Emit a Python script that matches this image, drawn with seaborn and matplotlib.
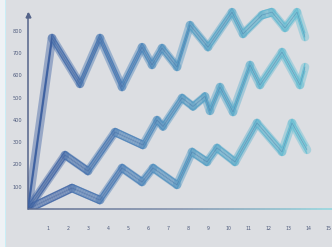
import numpy as np
import matplotlib
matplotlib.use("Agg")
import matplotlib.pyplot as plt
import seaborn as sns
import pandas as pd
from matplotlib.collections import LineCollection
from matplotlib.colors import LinearSegmentedColormap
from matplotlib.patches import Rectangle

# ---- data ----
top_x = [0, 1.2, 2.6, 3.6, 4.7, 5.7, 6.2, 6.7, 7.45, 8.1, 9.0, 10.2, 10.75, 11.7, 12.2, 12.85, 13.45, 13.85]
top_y = [0, 767, 561, 767, 547, 726, 646, 722, 637, 825, 726, 883, 785, 870, 883, 812, 883, 771]

mid_x = [0, 1.85, 3.0, 4.35, 5.75, 6.45, 6.75, 7.7, 8.25, 8.85, 9.1, 9.6, 10.25, 11.1, 11.6, 12.7, 13.6, 13.85]
mid_y = [0, 242, 170, 345, 287, 399, 370, 498, 460, 505, 440, 547, 435, 646, 556, 704, 556, 637]

bot_x = [0, 2.2, 3.6, 4.7, 5.7, 6.25, 7.45, 8.2, 8.95, 9.45, 10.35, 11.45, 12.7, 13.2, 13.95]
bot_y = [0, 94, 40, 184, 121, 184, 108, 256, 211, 274, 211, 386, 256, 386, 265]

y_ticks = [100, 200, 300, 400, 500, 600, 700, 800]
y_labels = ["100", "200", "300", "400", "500", "600", "700", "800"]
x_ticks = list(range(1, 16))
x_labels = [str(i) for i in x_ticks]

series = [(top_x, top_y), (mid_x, mid_y), (bot_x, bot_y)]

# ---- style ----
sns.set_theme(style="white")
bg = "#dcdee2"
W, H = 332, 247
fig = plt.figure(figsize=(W / 100, H / 100), dpi=100, facecolor=bg)
ax = fig.add_axes([28 / W, (H - 209) / H, 304 / W, 204 / H])
ax.set_facecolor(bg)
ax.patch.set_alpha(0)

# light strip at the left edge
fig.patches.append(Rectangle((0, 0), 5 / W, 1, transform=fig.transFigure,
                             facecolor="#eef2f5", edgecolor="none", zorder=0))
fig.patches.append(Rectangle((5 / W, 0), 1.2 / W, 1, transform=fig.transFigure,
                             facecolor="#c9eef6", edgecolor="none", zorder=0))

XMAX, YMAX = 15.2, 915
cmap = LinearSegmentedColormap.from_list(
    "sk", ["#4262a2", "#4d80b8", "#5aa6c8", "#6cc3d5"])
norm = plt.Normalize(0, 14)

for xs, ys in series:
    xs = np.asarray(xs, float)
    ys = np.asarray(ys, float)
    pts = np.column_stack([xs, ys])
    segs = np.stack([pts[:-1], pts[1:]], axis=1)
    mids = (xs[:-1] + xs[1:]) / 2
    cols = cmap(norm(mids))
    # soft band fill
    lc = LineCollection(segs, colors=cols, linewidths=6.2, alpha=0.45,
                        capstyle="round", joinstyle="round", zorder=2)
    ax.add_collection(lc)
    # band edges
    for off in [-17, 17]:
        ax.add_collection(LineCollection(segs + np.array([0, off]), colors=cols,
                                         linewidths=0.9, alpha=0.9, zorder=3))
    # sketch strokes inside the band
    for off in [-11, -5, 0, 5, 11]:
        ax.add_collection(LineCollection(segs + np.array([0, off]), colors=cols,
                                         linewidths=0.45, alpha=0.65, zorder=3))
    df = pd.DataFrame({"x": xs, "y": ys})
    sns.lineplot(data=df, x="x", y="y", ax=ax, color="#2d4a88",
                 linewidth=0.4, alpha=0.35, sort=False, estimator=None, zorder=4)

ax.set_xlim(0, XMAX)
ax.set_ylim(0, YMAX)
ax.set_xlabel("")
ax.set_ylabel("")

for s in ["top", "right"]:
    ax.spines[s].set_visible(False)
ax.spines["left"].set_color("#55648a")
ax.spines["left"].set_linewidth(1.1)
ax.spines["left"].set_bounds(0, 875)
ax.spines["bottom"].set_visible(False)

# x axis line with colour drift to cyan
xa = np.linspace(0, XMAX, 60)
axpts = np.column_stack([xa, np.zeros_like(xa)])
axsegs = np.stack([axpts[:-1], axpts[1:]], axis=1)
axcmap = LinearSegmentedColormap.from_list("ax", ["#5d6c90", "#7d8eab", "#8fd6df"])
ax.add_collection(LineCollection(axsegs, colors=axcmap(np.linspace(0, 1, len(axsegs))),
                                 linewidths=1.1, zorder=5, clip_on=False))

# arrow head on y axis
ax.plot([0], [868], marker="^", color="#55648a", markersize=3.5, clip_on=False, zorder=6)

ax.set_yticks(y_ticks)
ax.set_yticklabels(y_labels, fontsize=3.6, color="#4d5a7c")
ax.set_xticks(x_ticks)
ax.set_xticklabels(x_labels, fontsize=3.4, color="#4d5a7c")
ax.tick_params(axis="y", length=0, pad=4)
ax.tick_params(axis="x", length=11, width=0.9, color="#5f6d8e", pad=1.0, direction="out")
ax.grid(False)

fig.savefig("out.png", dpi=100, facecolor=bg)
